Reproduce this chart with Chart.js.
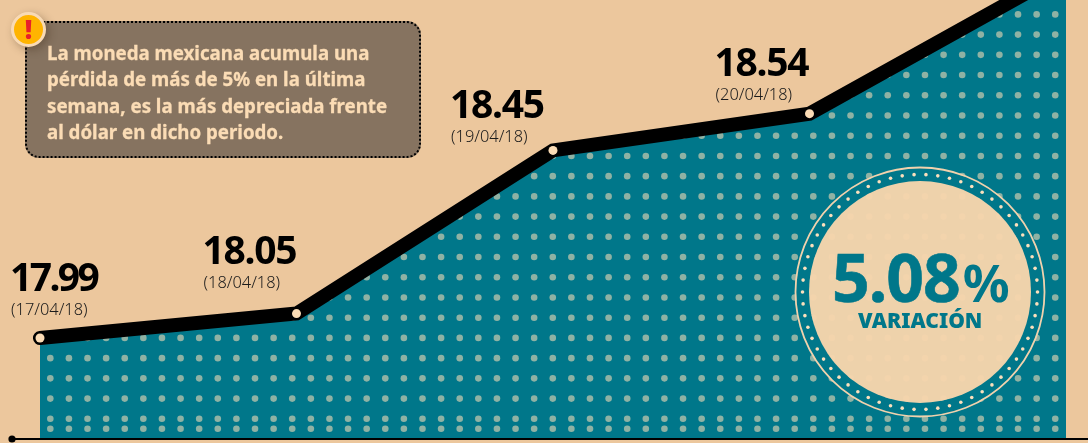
<!DOCTYPE html>
<html lang="es">
<head>
<meta charset="utf-8">
<title>Peso frente al dólar</title>
<script src="https://cdn.jsdelivr.net/npm/chart.js@4"></script>
<style>
  html, body { margin: 0; padding: 0; background: #ecc79d; }
  #wrap { position: relative; width: 1088px; height: 443px; overflow: hidden; }
  #grafica { position: absolute; left: 0; top: -20px; }
  #nota {
    position: absolute; left: 25px; top: 21px; width: 396px; height: 137px;
    box-sizing: border-box; background: #867360; border: 2px dotted #000; border-radius: 14px;
    padding: 17px 0 0 20px;
    color: #fbdcb5; font: 700 18.7px/26.3px "Noto Sans", sans-serif; white-space: nowrap;
    -webkit-text-stroke: 0.3px #fbdcb5;
  }
  #alerta {
    position: absolute; left: 11px; top: 12px; width: 29px; height: 29px;
    background: #ffb400; border: 3px solid #f8dab5; border-radius: 50%;
    box-shadow: 3px 3px 8px rgba(60,40,20,.35);
    color: #e8202a; font: 900 26px/29px "Noto Sans", sans-serif; text-align: center;
  }
  #pct, #var { position: absolute; color: #00778a; font-family: "Noto Sans", sans-serif; font-weight: 700; white-space: nowrap; }
  #pct { left: 832px; top: 231px; font-size: 66px; line-height: 90px; letter-spacing: -1px; -webkit-text-stroke: 0.6px #00778a; }
  #pct span { font-size: 52px; letter-spacing: 0; margin-left: 3px; -webkit-text-stroke: 0; }
  #var { left: 858px; top: 306px; font-size: 21px; line-height: 28px; font-weight: 900; }
</style>
</head>
<body>
<div id="wrap">
  <canvas id="grafica" width="1088" height="470"></canvas>
  <div id="nota">La moneda mexicana acumula una<br>pérdida de más de 5% en la última<br>semana, es la más depreciada frente<br>al dólar en dicho periodo.</div>
  <div id="alerta">!</div>
  <div id="pct">5.08<span>%</span></div>
  <div id="var">VARIACIÓN</div>
</div>
<script>
// tipo de cambio, pesos por dolar
const fechas = ['17/04/18', '18/04/18', '19/04/18', '20/04/18', '23/04/18'];
const valores = [17.99, 18.05, 18.45, 18.54, 18.89];
const etiquetas = ['17.99', '18.05', '18.45', '18.54'];

const escalaMin = 17.7425;
const escalaMax = 18.8567;

// el canvas sube 20px porque chart.js reserva margen para el grosor de la linea
const SUBE = 20;

// donde va cada etiqueta respecto a su punto
const desplazaX = [-30, -94, -103, -95];
const desplazaY = [-47, -49.5, -32, -37.6];
const espaciado = ['-2.6px', '-1.3px', '-1.3px', '-1.3px'];

const TEAL = '#00778a';
const PUNTO = '#8fb2a4';
const CREMA = '#f1d2ad';

// fondo punteado del area
function crearTrama() {
  const c = document.createElement('canvas');
  c.width = 1088;
  c.height = 470;
  const t = c.getContext('2d');
  t.fillStyle = TEAL;
  t.fillRect(0, 0, c.width, c.height);
  t.fillStyle = PUNTO;
  const filas = [];
  for (let i = 0; i < 21; i++) filas.push(14.4 + i * 20.22);
  filas.push(428.7);
  filas.forEach((y) => {
    for (let i = 0; i < 55; i++) {
      t.beginPath();
      t.arc(50.3 + i * 18.61, y + SUBE, 3.3, 0, Math.PI * 2);
      t.fill();
    }
  });
  return t.createPattern(c, 'no-repeat');
}

const ctx = document.getElementById('grafica').getContext('2d');

const decoracion = {
  id: 'decoracion',
  afterDatasetsDraw(chart) {
    const { ctx, scales } = chart;
    const base = scales.y.getPixelForValue(escalaMin);

    // linea base
    ctx.save();
    ctx.strokeStyle = '#000';
    ctx.lineWidth = 1.8;
    ctx.beginPath();
    ctx.moveTo(12, base);
    ctx.lineTo(1088, base);
    ctx.stroke();
    ctx.fillStyle = '#000';
    ctx.beginPath();
    ctx.arc(12, base, 3.6, 0, Math.PI * 2);
    ctx.fill();

    // circulo de la variacion
    const cx = 920, cy = 292 + SUBE;
    ctx.fillStyle = TEAL;
    ctx.beginPath();
    ctx.arc(cx, cy, 124, 0, Math.PI * 2);
    ctx.arc(cx, cy, 111, 0, Math.PI * 2, true);
    ctx.fill();
    ctx.fillStyle = 'rgba(246,213,172,0.97)';
    ctx.beginPath();
    ctx.arc(cx, cy, 111, 0, Math.PI * 2);
    ctx.fill();
    ctx.strokeStyle = CREMA;
    ctx.lineWidth = 1.8;
    ctx.beginPath();
    ctx.arc(cx, cy, 124.5, 0, Math.PI * 2);
    ctx.stroke();
    ctx.fillStyle = '#fbe0bd';
    for (let i = 0; i < 62; i++) {
      const a = (i / 62) * Math.PI * 2;
      ctx.beginPath();
      ctx.arc(cx + Math.cos(a) * 117.5, cy + Math.sin(a) * 117.5, 1.8, 0, Math.PI * 2);
      ctx.fill();
    }

    // etiquetas de los puntos
    const puntos = chart.getDatasetMeta(0).data;
    ctx.textBaseline = 'alphabetic';
    etiquetas.forEach((txt, i) => {
      const x = puntos[i].x + desplazaX[i];
      const y = puntos[i].y + desplazaY[i];
      ctx.fillStyle = '#000';
      ctx.font = '700 39px "Noto Sans", sans-serif';
      ctx.letterSpacing = espaciado[i];
      ctx.fillText(txt, x, y);
      ctx.fillStyle = '#1c1c1c';
      ctx.font = '300 16.4px "Noto Sans", sans-serif';
      ctx.letterSpacing = '0px';
      ctx.fillText('(' + fechas[i] + ')', x + 1, y + 24);
    });
    ctx.restore();
  },
};

new Chart(ctx, {
  type: 'line',
  data: {
    labels: fechas,
    datasets: [
      {
        data: valores,
        borderColor: '#000',
        borderWidth: 14,
        borderCapStyle: 'round',
        borderJoinStyle: 'miter',
        tension: 0,
        clip: false,
        fill: 'start',
        backgroundColor: crearTrama(),
        pointRadius: [4.5, 4.5, 4.5, 4.5, 0],
        pointBackgroundColor: '#fbdcb5',
        pointBorderColor: '#000',
        pointBorderWidth: 0,
      },
    ],
  },
  options: {
    responsive: false,
    animation: false,
    layout: { padding: { left: 40, right: 22, top: 0, bottom: 11 } },
    plugins: { legend: { display: false }, tooltip: { enabled: false } },
    scales: {
      x: { display: false },
      y: { display: false, min: escalaMin, max: escalaMax },
    },
  },
  plugins: [decoracion],
});
</script>
</body>
</html>
